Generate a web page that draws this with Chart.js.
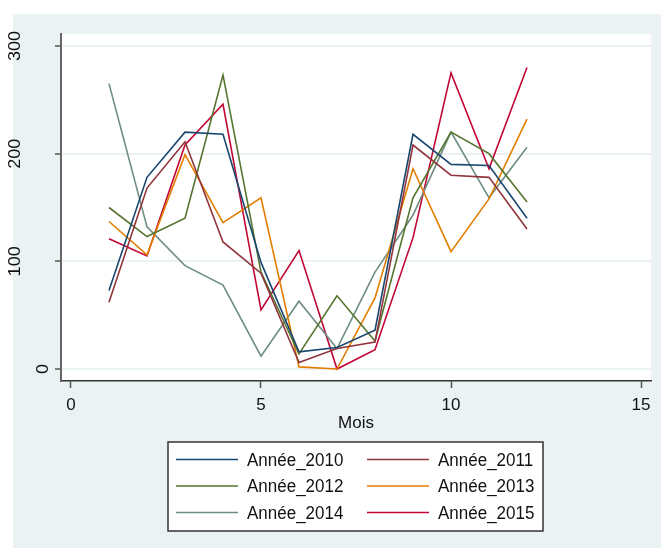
<!DOCTYPE html>
<html>
<head>
<meta charset="utf-8">
<script src="https://cdn.jsdelivr.net/npm/chart.js@4.4.1/dist/chart.umd.min.js"></script>
<style>
    html, body { margin: 0; padding: 0; background: #fff; }
    #wrap { width: 661px; height: 548px; }
</style>
</head>
<body>
<div id="wrap"><canvas id="chart" width="661" height="548"></canvas></div>
<script>
// monthly values
const months = [1, 2, 3, 4, 5, 6, 7, 8, 9, 10, 11, 12];
const annee2010 = [73, 178, 220, 218, 99, 16, 20, 36, 218, 190, 189, 140];
const annee2011 = [62, 168, 211, 118, 89, 6, 19, 25, 208, 180, 178, 130];
const annee2012 = [150, 123, 140, 273, 90, 14, 68, 26, 159, 220, 200, 155];
const annee2013 = [137, 106, 199, 136, 159, 2, 0, 66, 186, 109, 158, 232];
const annee2014 = [265, 132, 96, 78, 12, 63, 19, 90, 143, 220, 159, 206];
const annee2015 = [121, 105, 208, 246, 55, 110, 0, 18, 122, 275, 186, 280];

const seriesNames = ['Année_2010', 'Année_2011', 'Année_2012', 'Année_2013', 'Année_2014', 'Année_2015'];
const seriesValues = [annee2010, annee2011, annee2012, annee2013, annee2014, annee2015];
const seriesColors = ['#1a476f', '#90353b', '#55752f', '#e37e00', '#6e8e84', '#c10534'];

const xTicks = [0, 5, 10, 15];
const yTicks = [0, 100, 200, 300];
const xTitle = 'Mois';

const FONT = "'Liberation Sans', Arial, sans-serif";
const TEXT = '#111';

const datasets = seriesValues.map((vals, i) => ({
    label: seriesNames[i],
    data: months.map((m, j) => ({ x: m, y: vals[j] })),
    borderColor: seriesColors[i],
    backgroundColor: seriesColors[i],
    borderWidth: 1.6,
    pointRadius: 0,
    tension: 0,
    fill: false
}));

// grey outer area + white plot region
const backdrop = {
    id: 'backdrop',
    beforeDraw(chart) {
        const { ctx, chartArea: a } = chart;
        ctx.save();
        ctx.fillStyle = '#fff';
        ctx.fillRect(0, 0, chart.width, chart.height);
        ctx.fillStyle = '#eaf2f3';
        ctx.fillRect(13, 14, chart.width - 13, chart.height - 14);
        ctx.fillStyle = '#fff';
        ctx.fillRect(a.left, a.top, a.right - a.left, a.bottom - a.top);
        ctx.restore();
    }
};

// vertical y tick labels, stata style
const yLabels = {
    id: 'yLabels',
    afterDraw(chart) {
        const { ctx, chartArea: a } = chart;
        const y = chart.scales.y;
        ctx.save();
        ctx.font = '17px ' + FONT;
        ctx.fillStyle = TEXT;
        ctx.textAlign = 'center';
        ctx.textBaseline = 'alphabetic';
        yTicks.forEach(v => {
            const label = String(v);
            const w = ctx.measureText(label).width;
            ctx.save();
            ctx.translate(a.left + 1.5 - 1.5 * w, y.getPixelForValue(v));
            ctx.rotate(-Math.PI / 2);
            ctx.scale(1.06, 1);
            ctx.fillText(label, 0, 0);
            ctx.restore();
        });
        ctx.restore();
    }
};

// boxed two-column legend under the plot
const boxLegend = {
    id: 'boxLegend',
    afterDraw(chart) {
        const ctx = chart.ctx;
        ctx.save();
        ctx.fillStyle = '#fff';
        ctx.fillRect(168, 442, 375, 89);
        ctx.strokeStyle = '#333';
        ctx.lineWidth = 1.5;
        ctx.strokeRect(168, 442, 375, 89);
        ctx.font = '17px ' + FONT;
        ctx.textBaseline = 'middle';
        ctx.textAlign = 'left';
        chart.data.datasets.forEach((ds, i) => {
            const x0 = i % 2 === 0 ? 176 : 367;
            const yy = 459.5 + Math.floor(i / 2) * 26.5;
            ctx.strokeStyle = ds.borderColor;
            ctx.lineWidth = 1.6;
            ctx.beginPath();
            ctx.moveTo(x0, yy);
            ctx.lineTo(x0 + 62, yy);
            ctx.stroke();
            ctx.fillStyle = TEXT;
            ctx.save();
            ctx.translate(x0 + 71, yy + 1);
            ctx.scale(1, 1.1);
            ctx.fillText(ds.label, 0, 0);
            ctx.restore();
        });
        ctx.restore();
    }
};

new Chart(document.getElementById('chart'), {
    type: 'line',
    data: { datasets: datasets },
    plugins: [backdrop, yLabels, boxLegend],
    options: {
        responsive: false,
        animation: false,
        devicePixelRatio: 1,
        layout: { padding: { left: 13, top: 34, right: 10, bottom: 0 } },
        plugins: { legend: { display: false }, tooltip: { enabled: false } },
        scales: {
            x: {
                type: 'linear',
                min: -0.263,
                max: 15.263,
                afterBuildTicks: s => { s.ticks = xTicks.map(v => ({ value: v })); },
                afterFit: s => { s.height = 167; },
                ticks: { font: { size: 17, family: FONT }, color: TEXT, padding: 7, maxRotation: 0 },
                grid: { drawOnChartArea: false, tickLength: 7, tickColor: '#555', tickWidth: 1.5 },
                border: { color: '#333', width: 1.5 },
                title: { display: true, text: xTitle, font: { size: 17, family: FONT }, color: TEXT, padding: { top: 0, bottom: 114 } }
            },
            y: {
                type: 'linear',
                min: -11.1,
                max: 311.1,
                afterBuildTicks: s => { s.ticks = yTicks.map(v => ({ value: v })); },
                afterFit: s => { s.width = 48; },
                ticks: { display: false },
                grid: { color: '#eaf2f3', lineWidth: 2, tickLength: 6, tickColor: '#555', tickWidth: 1.5 },
                border: { color: '#666', width: 2 }
            }
        }
    }
});
</script>
</body>
</html>
